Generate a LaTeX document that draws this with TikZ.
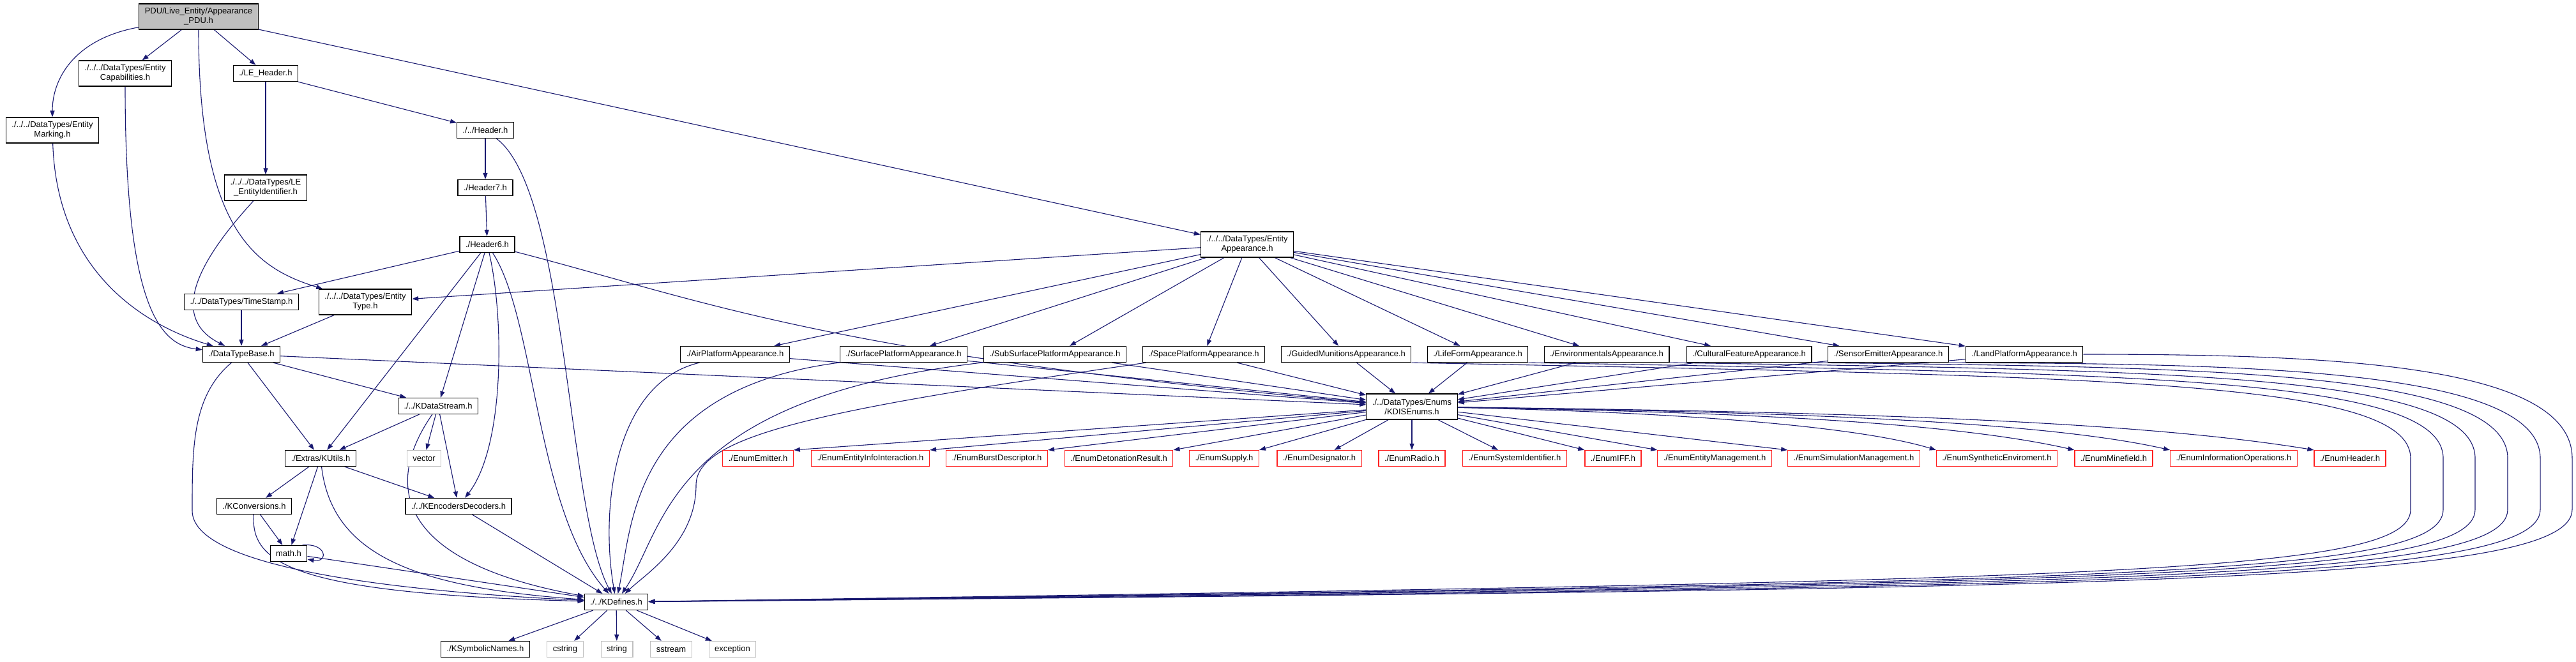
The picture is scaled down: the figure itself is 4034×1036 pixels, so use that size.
\documentclass[tikz,border=0pt]{standalone}
\usepackage{fontspec}
\setmainfont{Liberation Sans}
\usetikzlibrary{arrows.meta, backgrounds}
\definecolor{edgeblue}{HTML}{191970}
\definecolor{sysgray}{HTML}{BFBFBF}
\definecolor{missred}{HTML}{FF2020}
\begin{document}
\begin{tikzpicture}[x=1pt, y=-1pt,
    hfile/.style={draw=black, line width=1.2pt, fill=white, font=\fontsize{13}{15}\selectfont, inner xsep=9pt, inner ysep=2pt, minimum height=25pt, align=center},
    twoline/.style={minimum height=40pt},
    rootfile/.style={hfile, fill=sysgray},
    sysfile/.style={hfile, draw=sysgray},
    nofile/.style={hfile, draw=missred},
    incl/.style={draw=edgeblue, line width=1.1pt, -{Triangle[length=10pt, width=7pt]}}]
    \useasboundingbox (0,0) rectangle (4034,1036);

    \node[rootfile, twoline] (root) at (311, 26) {PDU/Live\_Entity/Appearance\\\_PDU.h};
    \node[hfile, twoline] (ecap) at (196, 115) {./../../DataTypes/Entity\\Capabilities.h};
    \node[hfile] (leh) at (416, 115) {./LE\_Header.h};
    \node[hfile, twoline] (emark) at (82, 204) {./../../DataTypes/Entity\\Marking.h};
    \node[hfile] (hdr) at (760, 204) {./../Header.h};
    \node[hfile, twoline] (leid) at (416, 294) {./../../DataTypes/LE\\\_EntityIdentifier.h};
    \node[hfile] (hdr7) at (760, 294) {./Header7.h};
    \node[hfile] (hdr6) at (763, 383) {./Header6.h};
    \node[hfile] (tstamp) at (378, 473) {./../DataTypes/TimeStamp.h};
    \node[hfile, twoline] (etype) at (572, 473) {./../../DataTypes/Entity\\Type.h};
    \node[hfile] (dtb) at (378, 555) {./DataTypeBase.h};
    \node[hfile] (kds) at (686, 636) {./../KDataStream.h};
    \node[hfile] (kutils) at (502, 718) {./Extras/KUtils.h};
    \node[sysfile] (vector) at (664, 718) {vector};
    \node[hfile] (kconv) at (398, 793) {./KConversions.h};
    \node[hfile] (kenc) at (718, 793) {./../KEncodersDecoders.h};
    \node[hfile] (math) at (452, 867) {math.h};
    \node[hfile] (kdef) at (965, 943) {./../KDefines.h};
    \node[hfile] (ksym) at (760, 1017) {./KSymbolicNames.h};
    \node[sysfile] (cstring) at (885, 1017) {cstring};
    \node[sysfile] (string) at (966, 1017) {string};
    \node[sysfile] (sstream) at (1051, 1017) {sstream};
    \node[sysfile] (exception) at (1147, 1017) {exception};

    \node[hfile, twoline] (eapp) at (1953, 383) {./../../DataTypes/Entity\\Appearance.h};
    \node[hfile] (air) at (1151, 555) {./AirPlatformAppearance.h};
    \node[hfile] (surf) at (1415, 555) {./SurfacePlatformAppearance.h};
    \node[hfile] (subs) at (1652, 555) {./SubSurfacePlatformAppearance.h};
    \node[hfile] (space) at (1885, 555) {./SpacePlatformAppearance.h};
    \node[hfile] (guided) at (2108, 555) {./GuidedMunitionsAppearance.h};
    \node[hfile] (life) at (2314, 555) {./LifeFormAppearance.h};
    \node[hfile] (env) at (2516, 555) {./EnvironmentalsAppearance.h};
    \node[hfile] (cult) at (2739, 555) {./CulturalFeatureAppearance.h};
    \node[hfile] (sensor) at (2957, 555) {./SensorEmitterAppearance.h};
    \node[hfile] (land) at (3170, 555) {./LandPlatformAppearance.h};
    \node[hfile, twoline] (kdis) at (2211, 637) {./../DataTypes/Enums\\/KDISEnums.h};

    \node[nofile] (emitter) at (1187, 718) {./EnumEmitter.h};
    \node[nofile] (infoint) at (1363, 718) {./EnumEntityInfoInteraction.h};
    \node[nofile] (burst) at (1561, 718) {./EnumBurstDescriptor.h};
    \node[nofile] (deton) at (1752, 718) {./EnumDetonationResult.h};
    \node[nofile] (supply) at (1917, 718) {./EnumSupply.h};
    \node[nofile] (desig) at (2066, 718) {./EnumDesignator.h};
    \node[nofile] (radio) at (2211, 718) {./EnumRadio.h};
    \node[nofile] (sysid) at (2372, 718) {./EnumSystemIdentifier.h};
    \node[nofile] (iff) at (2526, 718) {./EnumIFF.h};
    \node[nofile] (entman) at (2685, 718) {./EnumEntityManagement.h};
    \node[nofile] (simman) at (2903, 718) {./EnumSimulationManagement.h};
    \node[nofile] (synth) at (3127, 718) {./EnumSyntheticEnviroment.h};
    \node[nofile] (mine) at (3310, 718) {./EnumMinefield.h};
    \node[nofile] (infoops) at (3498, 718) {./EnumInformationOperations.h};
    \node[nofile] (ehdr) at (3680, 718) {./EnumHeader.h};

    \begin{scope}[on background layer]
    % top of the graph
    \draw[incl] (root) .. controls (120, 60) and (82, 120) .. (emark);
    \draw[incl] (root) -- (ecap);
    \draw[incl] (root.south) .. controls (311, 360) and (400, 420) .. (etype);
    \draw[incl] (root) -- (leh);
    \draw[incl] (root) -- (eapp);
    \draw[incl] (ecap) .. controls (196, 480) and (250, 540) .. (dtb);
    \draw[incl] (emark) .. controls (90, 450) and (260, 520) .. (dtb);
    \draw[incl] (leh) -- (leid);
    \draw[incl] (leh) -- (hdr);
    \draw[incl] (leid) .. controls (300, 420) and (270, 500) .. (dtb);
    \draw[incl] (hdr) -- (hdr7);
    \draw[incl] (hdr) .. controls (888, 300) and (888, 800) .. (kdef);
    \draw[incl] (hdr7) -- (hdr6);

    \draw[incl] (hdr6) -- (tstamp);
    \draw[incl] (hdr6) -- (kutils);
    \draw[incl] (hdr6) -- (kds);
    \draw[incl] (hdr6) .. controls (790, 500) and (790, 700) .. (kenc);
    \draw[incl] (hdr6) .. controls (839, 500) and (839, 800) .. (kdef);
    \draw[incl] (hdr6) .. controls (1100, 470) and (1290, 555) .. (kdis);
    \draw[incl] (tstamp) -- (dtb);
    \draw[incl] (etype) -- (dtb);

    % DataTypeBase and the utilities
    \draw[incl] (dtb) -- (kds);
    \draw[incl] (dtb) -- (kutils);
    \draw[incl] (dtb) -- (kdis);
    \draw[incl] (dtb) .. controls (301, 620) and (301, 700) .. (301, 800) .. controls (301, 900) and (700, 930) .. (kdef);
    \draw[incl] (kds) -- (kutils);
    \draw[incl] (kds) -- (vector);
    \draw[incl] (kds) -- (kenc);
    \draw[incl] (kds) .. controls (600, 760) and (620, 880) .. (kdef);
    \draw[incl] (kutils) -- (kconv);
    \draw[incl] (kutils) -- (math);
    \draw[incl] (kutils) -- (kenc);
    \draw[incl] (kutils) .. controls (520, 870) and (650, 920) .. (kdef);
    \draw[incl] (kconv) -- (math);
    \draw[incl] (kconv) .. controls (393, 880) and (450, 930) .. (kdef);
    \draw[incl] (math) -- (kdef);
    \draw[incl] ([xshift=-8pt]math.north east) .. controls (512, 850) and (515, 882) .. ([yshift=4pt]math.south east);
    \draw[incl] (kenc) -- (kdef);

    \draw[incl] (kdef) -- (ksym);
    \draw[incl] (kdef) -- (cstring);
    \draw[incl] (kdef) -- (string);
    \draw[incl] (kdef) -- (sstream);
    \draw[incl] (kdef) -- (exception);

    % EntityAppearance and its parts
    \draw[incl] (eapp) -- (etype);
    \draw[incl] (eapp) -- (air);
    \draw[incl] (eapp) -- (surf);
    \draw[incl] (eapp) -- (subs);
    \draw[incl] (eapp) -- (space);
    \draw[incl] (eapp) -- (guided);
    \draw[incl] (eapp) -- (life);
    \draw[incl] (eapp) -- (env);
    \draw[incl] (eapp) -- (cult);
    \draw[incl] (eapp) -- (sensor);
    \draw[incl] (eapp) -- (land);

    \draw[incl] (air) -- (kdis);
    \draw[incl] (surf) -- (kdis);
    \draw[incl] (subs) -- (kdis);
    \draw[incl] (space) -- (kdis);
    \draw[incl] (guided) -- (kdis);
    \draw[incl] (life) -- (kdis);
    \draw[incl] (env) -- (kdis);
    \draw[incl] (cult) -- (kdis);
    \draw[incl] (sensor) -- (kdis);
    \draw[incl] (land) -- (kdis);

    \draw[incl] (air) .. controls (960, 600) and (940, 800) .. (kdef);
    \draw[incl] (surf) .. controls (990, 610) and (990, 820) .. (kdef);
    \draw[incl] (subs) .. controls (1042, 625) and (1042, 830) .. (kdef);
    \draw[incl] (space) .. controls (1300, 640) and (1090, 680) .. (1090, 760) .. controls (1090, 850) and (1010, 900) .. (kdef);

    % the long ones round the right side
    \draw[incl] (guided.south east) .. controls (3300, 590) and (3775, 595) .. (3775, 718) -- (3775, 798) .. controls (3775, 900) and (3300, 909) .. (kdef);
    \draw[incl] (life.south east) .. controls (3350, 585) and (3826, 590) .. (3826, 718) -- (3826, 798) .. controls (3826, 905) and (3300, 912) .. (kdef);
    \draw[incl] (env.south east) .. controls (3400, 580) and (3876, 585) .. (3876, 718) -- (3876, 798) .. controls (3876, 908) and (3300, 914) .. (kdef);
    \draw[incl] (cult.south east) .. controls (3450, 575) and (3927, 580) .. (3927, 718) -- (3927, 798) .. controls (3927, 911) and (3300, 917) .. (kdef);
    \draw[incl] (sensor.south east) .. controls (3500, 570) and (3978, 575) .. (3978, 718) -- (3978, 798) .. controls (3978, 914) and (3300, 920) .. (kdef);
    \draw[incl] (land.east) .. controls (3650, 555) and (4028, 570) .. (4028, 718) -- (4028, 798) .. controls (4028, 917) and (3300, 922) .. (kdef);

    % KDISEnums and the enums
    \draw[incl] (kdis) -- (emitter.north east);
    \draw[incl] (kdis) -- (infoint.north east);
    \draw[incl] (kdis) -- (burst.north east);
    \draw[incl] (kdis) -- (deton.north east);
    \draw[incl] (kdis) -- (supply.north east);
    \draw[incl] (kdis) -- (desig);
    \draw[incl] (kdis) -- (radio);
    \draw[incl] (kdis) -- (sysid);
    \draw[incl] (kdis) -- (iff.north west);
    \draw[incl] (kdis) -- (entman.north west);
    \draw[incl] (kdis) -- (simman.north west);
    \draw[incl] (kdis) .. controls (2600, 645) and (2900, 665) .. (synth.north west);
    \draw[incl] (kdis) .. controls (2700, 645) and (3050, 660) .. (mine.north west);
    \draw[incl] (kdis) .. controls (2800, 645) and (3200, 660) .. (infoops.north west);
    \draw[incl] (kdis) .. controls (2900, 645) and (3350, 660) .. (ehdr.north west);
    \end{scope}
\end{tikzpicture}
\end{document}
